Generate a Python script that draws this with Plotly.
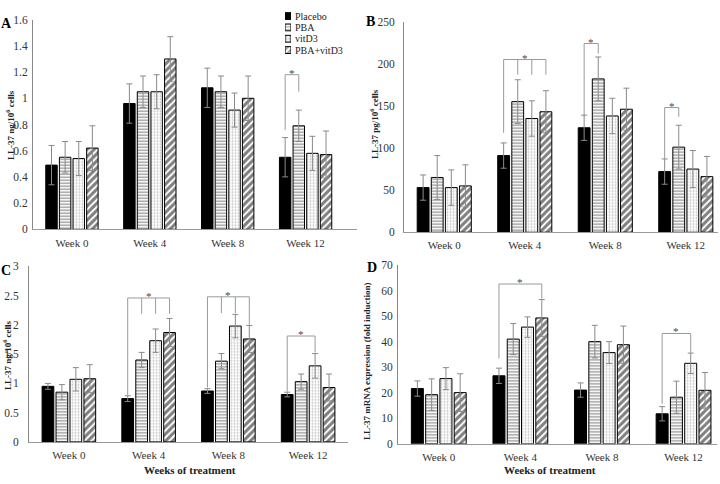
import plotly.graph_objects as go

W, H = 720, 484

weeks = ["Week 0", "Week 4", "Week 8", "Week 12"]
groups = ["Placebo", "PBA", "vitD3", "PBA+vitD3"]

# Panel A - LL-37 ng/10^6 cells
a_placebo = [0.49, 0.96, 1.08, 0.55]
a_pba = [0.55, 1.05, 1.05, 0.79]
a_vitd3 = [0.54, 1.05, 0.91, 0.58]
a_combo = [0.62, 1.30, 1.00, 0.57]
a_placebo_err = [0.15, 0.15, 0.15, 0.15]
a_pba_err = [0.12, 0.12, 0.12, 0.12]
a_vitd3_err = [0.13, 0.13, 0.13, 0.13]
a_combo_err = [0.17, 0.17, 0.17, 0.18]

# Panel B - LL-37 pg/10^6 cells
b_placebo = [53, 91, 124, 72]
b_pba = [65, 155, 182, 101]
b_vitd3 = [53, 135, 138, 75]
b_combo = [55, 143, 146, 66]
b_placebo_err = [15, 15, 15, 15]
b_pba_err = [26, 26, 26, 26]
b_vitd3_err = [21, 21, 21, 22]
b_combo_err = [25, 25, 25, 24]

# Panel C - LL-37 ng/10^6 cells
c_placebo = [0.95, 0.74, 0.87, 0.81]
c_pba = [0.85, 1.40, 1.38, 1.03]
c_vitd3 = [1.07, 1.73, 1.98, 1.30]
c_combo = [1.08, 1.87, 1.76, 0.93]
c_placebo_err = [0.05, 0.05, 0.04, 0.04]
c_pba_err = [0.13, 0.13, 0.13, 0.13]
c_vitd3_err = [0.20, 0.20, 0.20, 0.21]
c_combo_err = [0.24, 0.24, 0.23, 0.23]

# Panel D - LL-37 mRNA expression (fold induction)
d_placebo = [21.7, 26.7, 21.1, 11.8]
d_pba = [19.3, 41.1, 40.1, 18.3]
d_vitd3 = [25.6, 45.8, 35.8, 31.6]
d_combo = [20.1, 49.4, 38.9, 21.0]
d_placebo_err = [3.0, 3.0, 2.8, 2.8]
d_pba_err = [6.2, 6.1, 6.4, 6.3]
d_vitd3_err = [4.3, 4.0, 4.3, 4.0]
d_combo_err = [7.4, 7.2, 7.3, 7.0]

# Significance brackets: (week index, groups joined, top of bracket, bottom of each leg)
a_brackets = [(3, [0, 1], 1.18, [0.76, 1.05])]
b_brackets = [(1, [0, 1, 2, 3], 205, [118, 187, 187, 187]),
              (2, [0, 1], 224, [137, 212]),
              (3, [0, 1], 148, [87, 137])]
c_brackets = [(1, [0, 1, 2, 3], 2.46, [0.80, 2.19, 2.19, 2.19]),
              (2, [0, 1, 2, 3], 2.48, [0.93, 2.20, 2.20, 2.00]),
              (3, [0, 2], 1.81, [0.86, 1.53])]
d_brackets = [(1, [0, 3], 62.7, [33.5, 57.0]),
              (3, [0, 2], 43.3, [15.7, 35.6])]

SERIF = "Liberation Serif, Times New Roman, serif"
BARGAP = 0.3
SLOT = (1 - BARGAP) / 4

styles = [
    dict(color="black", pattern=dict(shape="")),
    dict(color="white", pattern=dict(shape="-", fgcolor="#1a1a1a", bgcolor="white", size=3, solidity=0.4)),
    dict(color="white", pattern=dict(shape=".", fgcolor="#8c8c8c", bgcolor="white", size=3, solidity=0.35)),
    dict(color="white", pattern=dict(shape="/", fgcolor="black", bgcolor="white", size=5, solidity=0.6)),
]

panels = [
    dict(letter="A", vals=[a_placebo, a_pba, a_vitd3, a_combo],
         errs=[a_placebo_err, a_pba_err, a_vitd3_err, a_combo_err],
         ymax=1.6, dtick=0.2, ytitle="LL-37 ng/10<sup>6</sup> cells",
         xpx=(33, 357), ypx=(14, 229), xmax=3.66, brackets=a_brackets,
         letter_pos=(6, 17.5), ytitle_pos=(10, 122), xtitle_pos=None, standoff=2),
    dict(letter="B", vals=[b_placebo, b_pba, b_vitd3, b_combo],
         errs=[b_placebo_err, b_pba_err, b_vitd3_err, b_combo_err],
         ymax=250, dtick=50, ytitle="LL-37 pg/10<sup>6</sup> cells",
         xpx=(404, 718), ypx=(16, 232), xmax=3.4, brackets=b_brackets,
         letter_pos=(371, 16), ytitle_pos=(374, 121), xtitle_pos=None, standoff=6),
    dict(letter="C", vals=[c_placebo, c_pba, c_vitd3, c_combo],
         errs=[c_placebo_err, c_pba_err, c_vitd3_err, c_combo_err],
         ymax=3, dtick=0.5, ytitle="LL-37 ng/10<sup>6</sup> cells",
         xpx=(29, 348), ypx=(267, 447), xmax=3.5, brackets=c_brackets,
         letter_pos=(6, 271), ytitle_pos=(7, 358), xtitle_pos=(190, 476), standoff=7),
    dict(letter="D", vals=[d_placebo, d_pba, d_vitd3, d_combo],
         errs=[d_placebo_err, d_pba_err, d_vitd3_err, d_combo_err],
         ymax=70, dtick=10, ytitle="LL-37 mRNA expression (fold induction)",
         xpx=(398, 717), ypx=(266, 449), xmax=3.41, brackets=d_brackets,
         letter_pos=(372, 268), ytitle_pos=(367, 365), xtitle_pos=(550, 476), standoff=2),
]

fig = go.Figure()
layout = dict(width=W, height=H, margin=dict(l=0, r=0, t=0, b=0), autosize=False,
              paper_bgcolor="white", plot_bgcolor="white", barmode="group",
              bargap=BARGAP, bargroupgap=0.16, showlegend=False,
              font=dict(family=SERIF, color="#333"))
shapes, annotations = [], []
xpos = list(range(len(weeks)))

for n, p in enumerate(panels, start=1):
    xa = "x" if n == 1 else f"x{n}"
    ya = "y" if n == 1 else f"y{n}"
    for g, name in enumerate(groups):
        st = styles[g]
        fig.add_trace(go.Bar(
            x=xpos, y=p["vals"][g], name=name, xaxis=xa, yaxis=ya,
            marker=dict(color=st["color"], line=dict(color="black", width=1),
                        pattern=st["pattern"]),
            error_y=dict(type="data", array=p["errs"][g], visible=True,
                         color="#8a8a8a", thickness=1, width=3),
        ))
    xdom = [p["xpx"][0] / W, p["xpx"][1] / W]
    ydom = [1 - p["ypx"][1] / H, 1 - p["ypx"][0] / H]
    layout["xaxis" if n == 1 else f"xaxis{n}"] = dict(
        domain=xdom, anchor=ya, range=[-0.5, p["xmax"]], tickvals=xpos, ticktext=weeks,
        showline=True, linecolor="#999", linewidth=1, showgrid=False, zeroline=False,
        ticks="", ticklabelstandoff=3, tickfont=dict(family=SERIF, size=11, color="#333"))
    layout["yaxis" if n == 1 else f"yaxis{n}"] = dict(
        domain=ydom, anchor=xa, range=[0, p["ymax"]], dtick=p["dtick"], tick0=0,
        showline=True, linecolor="#888", linewidth=1, showgrid=False, zeroline=False,
        ticks="", ticklabelstandoff=p["standoff"], tickfont=dict(family=SERIF, size=11.5, color="#333"))

    for (wk, gs, top, bottoms) in p["brackets"]:
        xs = [wk + (g - 1.5) * SLOT for g in gs]
        line = dict(color="#9a9a9a", width=1)
        shapes.append(dict(type="line", xref=xa, yref=ya, x0=xs[0], x1=xs[-1], y0=top, y1=top, line=line))
        for xg, yb in zip(xs, bottoms):
            shapes.append(dict(type="line", xref=xa, yref=ya, x0=xg, x1=xg, y0=yb, y1=top, line=line))
        annotations.append(dict(text="*", xref=xa, yref=ya, x=(xs[0] + xs[-1]) / 2, y=top,
                                xanchor="center", yanchor="bottom", yshift=-6, showarrow=False,
                                font=dict(family=SERIF, size=11, color="#444")))

    lx, ly = p["letter_pos"]
    annotations.append(dict(text=f"<b>{p['letter']}</b>", xref="paper", yref="paper",
                            x=lx / W, y=1 - ly / H, xanchor="center", yanchor="middle",
                            showarrow=False, font=dict(family=SERIF, size=14, color="black")))
    tx, ty = p["ytitle_pos"]
    annotations.append(dict(text=f"<b>{p['ytitle']}</b>", xref="paper", yref="paper",
                            x=tx / W, y=1 - ty / H, xanchor="center", yanchor="middle",
                            textangle=-90, showarrow=False,
                            font=dict(family=SERIF, size=9, color="#222")))
    if p["xtitle_pos"]:
        tx, ty = p["xtitle_pos"]
        annotations.append(dict(text="<b>Weeks of treatment</b>", xref="paper", yref="paper",
                                x=tx / W, y=1 - ty / H, xanchor="center", yanchor="middle",
                                showarrow=False, font=dict(family=SERIF, size=11, color="#222")))

# Legend drawn in panel A corner: swatch bars on a tiny helper axis + text labels
leg_rows = list(range(len(groups)))
fig.add_trace(go.Bar(
    x=[1] * len(groups), y=leg_rows, orientation="h", xaxis="x5", yaxis="y5",
    width=0.6, cliponaxis=False, hoverinfo="skip",
    marker=dict(color=[s["color"] for s in styles], line=dict(color="black", width=1),
                pattern=dict(shape=[s["pattern"]["shape"] for s in styles],
                             fgcolor=["black", "#222", "#999", "black"],
                             bgcolor=["black", "white", "white", "white"],
                             size=[3, 3, 3, 4], solidity=[0.3, 0.4, 0.35, 0.5])),
))
layout["xaxis5"] = dict(domain=[285 / W, 291 / W], anchor="y5", range=[0, 1], visible=False)
layout["yaxis5"] = dict(domain=[1 - 51 / H, 1 - 4.5 / H], anchor="x5", range=[3.5, -0.5], visible=False)
for r, name in zip(leg_rows, groups):
    annotations.append(dict(text=name, xref="paper", yref="y5", x=293 / W, y=r,
                            xanchor="left", yanchor="middle", showarrow=False,
                            font=dict(family=SERIF, size=10, color="#222")))

layout["shapes"] = shapes
layout["annotations"] = annotations
fig.update_layout(**layout)
fig.write_html("out.html")
